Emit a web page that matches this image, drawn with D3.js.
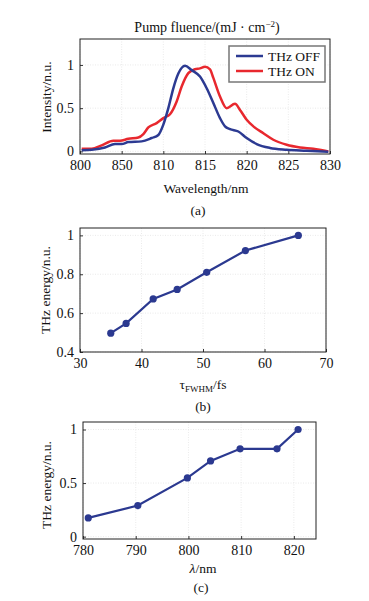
<!DOCTYPE html>
<html>
<head>
<meta charset="utf-8">
<script src="https://cdn.jsdelivr.net/npm/d3@7"></script>
<style>
body{margin:0;background:#fff;}
svg{display:block;}
svg text{font-family:"Liberation Serif","Times New Roman","DejaVu Serif",serif !important;fill:#111;}
</style>
</head>
<body>
<svg width="369" height="601"></svg>
<script>
// (a) spectra, wavelength in nm
var offWl  = [800.2,801.4,803.0,804.2,805.0,805.8,807.4,808.6,809.4,810.0,810.6,811.2,811.8,812.6,813.4,814.4,815.2,816.0,816.8,817.4,818.0,819.0,820.0,821.2,822.8,824.8,827.2,829.8];
var offVal = [0.012,0.02,0.046,0.085,0.085,0.108,0.116,0.155,0.19,0.31,0.50,0.73,0.90,0.99,0.94,0.865,0.73,0.56,0.385,0.29,0.258,0.23,0.155,0.085,0.04,0.02,0.008,-0.005];
var onWl   = [800.2,801.4,802.6,804.0,804.8,805.8,807.0,807.6,808.2,809.2,810.0,810.8,811.6,812.2,813.0,813.8,814.4,815.0,815.6,816.0,816.8,817.6,818.6,819.2,820.0,820.8,822.0,823.2,824.8,826.4,828.0,829.8];
var onVal  = [0.03,0.03,0.07,0.123,0.123,0.146,0.16,0.2,0.277,0.327,0.385,0.43,0.577,0.75,0.905,0.95,0.96,0.98,0.95,0.85,0.635,0.50,0.55,0.48,0.366,0.29,0.21,0.135,0.077,0.046,0.03,0.0];
var aTicks = [800,805,810,815,820,825,830];
var aTickLabels = ["800","850","810","815","820","825","830"];
var seriesNames = ["THz OFF","THz ON"];

// (b) THz energy vs pulse width
var tauFs = [35,37.5,41.9,45.8,50.6,56.9,65.5];
var tauEnergy = [0.497,0.547,0.673,0.722,0.81,0.922,1.0];

// (c) THz energy vs central wavelength
var lamNm = [781,790.4,799.8,804.2,809.8,816.8,820.8];
var lamEnergy = [0.175,0.29,0.548,0.707,0.82,0.82,1.0];

var blue = "#2c3a92", red = "#e8282e", navy = "#2b3990";

var svg = d3.select("svg");

var frame = function(box, x, y, xt, xl, yt, yl){
    var g = svg.append("g");
    // grid
    g.selectAll(".gx").data(xt).enter().append("line")
        .attr("x1",function(d){return x(d);}).attr("x2",function(d){return x(d);})
        .attr("y1",box.t).attr("y2",box.b)
        .attr("stroke","#e4e4e4").attr("stroke-width",0.8).attr("stroke-dasharray","1,1.5");
    g.selectAll(".gy").data(yt).enter().append("line")
        .attr("y1",function(d){return y(d);}).attr("y2",function(d){return y(d);})
        .attr("x1",box.l).attr("x2",box.r)
        .attr("stroke","#e4e4e4").attr("stroke-width",0.8).attr("stroke-dasharray","1,1.5");

    var xa = g.append("g").attr("transform","translate(0,"+box.b+")")
        .call(d3.axisBottom(x).tickValues(xt).tickFormat(function(d,i){return xl[i];}).tickSizeInner(-3).tickSizeOuter(0).tickPadding(6));
    var ya = g.append("g").attr("transform","translate("+box.l+",0)")
        .call(d3.axisLeft(y).tickValues(yt).tickFormat(function(d,i){return yl[i];}).tickSizeInner(-3).tickSizeOuter(0).tickPadding(6));
    [xa,ya].forEach(function(a){
        a.attr("font-family",null);
        a.select(".domain").remove();
        a.selectAll("text").attr("font-size","14px").attr("fill","#111");
        a.selectAll("line").attr("stroke","#333");
    });
    g.append("rect").attr("x",box.l).attr("y",box.t)
        .attr("width",box.r-box.l).attr("height",box.b-box.t)
        .attr("fill","none").attr("stroke","#222").attr("stroke-width",1);
    return g;
};

var label = function(txt,x,y,rot,size){
    var t = svg.append("text").attr("text-anchor","middle").attr("font-size",(size||13.5)+"px");
    if(rot) t.attr("transform","translate("+x+","+y+") rotate(-90)");
    else t.attr("x",x).attr("y",y);
    t.text(txt);
    return t;
};

// ---- panel (a)
var boxA = {l:80,r:330,t:39,b:154};
var xA = d3.scaleLinear().domain([800,830]).range([boxA.l,boxA.r]);
var yA = d3.scaleLinear().domain([-0.03,1.3]).range([boxA.b,boxA.t]);
frame(boxA,xA,yA,aTicks,aTickLabels,[0,0.5,1],["0","0.5","1"]);

var lineA = d3.line().curve(d3.curveMonotoneX)
    .x(function(d){return xA(d[0]);}).y(function(d){return yA(d[1]);});
svg.append("path").datum(d3.zip(onWl,onVal)).attr("d",lineA)
    .attr("fill","none").attr("stroke",red).attr("stroke-width",2.5);
svg.append("path").datum(d3.zip(offWl,offVal)).attr("d",lineA)
    .attr("fill","none").attr("stroke",blue).attr("stroke-width",2.5);

var leg = svg.append("g");
leg.append("rect").attr("x",229).attr("y",46).attr("width",96).attr("height",36)
    .attr("fill","#fff").attr("stroke","#777").attr("stroke-width",1.5);
seriesNames.forEach(function(n,i){
    leg.append("line").attr("x1",236).attr("x2",263).attr("y1",56+i*15).attr("y2",56+i*15)
        .attr("stroke",i==0?blue:red).attr("stroke-width",2.5);
    leg.append("text").attr("x",268).attr("y",61+i*15).attr("font-size","13.5px").text(n);
});

var title = svg.append("text").attr("x",207).attr("y",32).attr("text-anchor","middle").attr("font-size","14px");
title.append("tspan").text("Pump fluence/(mJ \u00b7 cm");
title.append("tspan").attr("dy","-5").attr("font-size","9px").text("\u22122");
title.append("tspan").attr("dy","5").text(")");

label("Wavelength/nm",206,193);
label("(a)",198,215);
label("Intensity/n.u.",51,97,true);

// ---- panel (b)
var boxB = {l:80,r:326,t:228,b:352};
var xB = d3.scaleLinear().domain([30,70]).range([boxB.l,boxB.r]);
var yB = d3.scaleLinear().domain([0.4,1.038]).range([boxB.b,boxB.t]);
frame(boxB,xB,yB,[30,40,50,60,70],["30","40","50","60","70"],[0.4,0.6,0.8,1],["0.4","0.6","0.8","1"]);
var lineB = d3.line().x(function(d){return xB(d[0]);}).y(function(d){return yB(d[1]);});
svg.append("path").datum(d3.zip(tauFs,tauEnergy)).attr("d",lineB)
    .attr("fill","none").attr("stroke",navy).attr("stroke-width",2.2);
svg.selectAll(".pb").data(d3.zip(tauFs,tauEnergy)).enter().append("circle")
    .attr("cx",function(d){return xB(d[0]);}).attr("cy",function(d){return yB(d[1]);})
    .attr("r",3.6).attr("fill",navy);

var tl = svg.append("text").attr("x",203).attr("y",389).attr("text-anchor","middle").attr("font-size","13.5px");
tl.append("tspan").text("\u03c4");
tl.append("tspan").attr("dy","3").attr("font-size","9px").text("FWHM");
tl.append("tspan").attr("dy","-3").text("/fs");
label("(b)",203,411);
label("THz energy/n.u.",50,290,true);

// ---- panel (c)
var boxC = {l:83,r:316,t:422,b:539};
var xC = d3.scaleLinear().domain([780,824.2]).range([boxC.l,boxC.r]);
var yC = d3.scaleLinear().domain([-0.022,1.07]).range([boxC.b,boxC.t]);
frame(boxC,xC,yC,[780,790,800,810,820],["780","790","800","810","820"],[0,0.5,1],["0","0.5","1"]);
var lineC = d3.line().x(function(d){return xC(d[0]);}).y(function(d){return yC(d[1]);});
svg.append("path").datum(d3.zip(lamNm,lamEnergy)).attr("d",lineC)
    .attr("fill","none").attr("stroke",navy).attr("stroke-width",2.2);
svg.selectAll(".pc").data(d3.zip(lamNm,lamEnergy)).enter().append("circle")
    .attr("cx",function(d){return xC(d[0]);}).attr("cy",function(d){return yC(d[1]);})
    .attr("r",3.6).attr("fill",navy);

var ll = svg.append("text").attr("x",203).attr("y",573).attr("text-anchor","middle").attr("font-size","13.5px");
ll.append("tspan").attr("font-style","italic").text("\u03bb");
ll.append("tspan").text("/nm");
label("(c)",201,592);
label("THz energy/n.u.",51,485,true);
</script>
</body>
</html>
